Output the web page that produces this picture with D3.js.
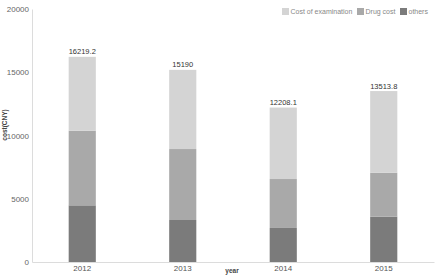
<!DOCTYPE html>
<html>
<head>
<meta charset="utf-8">
<script src="https://cdn.jsdelivr.net/npm/d3@7"></script>
<style>
  html, body { margin: 0; padding: 0; background: #fff; }
  svg { display: block; font-family: "Liberation Sans", Arial, sans-serif; }
</style>
</head>
<body>
<div id="chart"></div>
<script>
const years = ["2012", "2013", "2014", "2015"];
const others = [4480, 3320, 2690, 3580];
const drugCost = [5900, 5610, 3870, 3480];
const examCost = [5839.2, 6260, 5648.1, 6453.8];
const seriesNames = ["Cost of examination", "Drug cost", "others"];
const yTicks = [0, 5000, 10000, 15000, 20000];

const width = 440;
const height = 276;
const margin = { top: 9, right: 6, bottom: 14, left: 32 };

const colors = { others: "#7b7b7b", drug: "#a9a9a9", exam: "#d4d4d4" };

const rows = years.map((y, i) => ({
  year: y,
  others: others[i],
  drug: drugCost[i],
  exam: examCost[i],
}));

const stack = d3.stack().keys(["others", "drug", "exam"]);
const stacked = stack(rows);

const x = d3
  .scaleBand()
  .domain(years)
  .range([margin.left, width - margin.right])
  .paddingInner(0.73)
  .paddingOuter(0.365);

const y = d3
  .scaleLinear()
  .domain([0, 20000])
  .range([height - margin.bottom, margin.top]);

const svg = d3
  .select("#chart")
  .append("svg")
  .attr("width", width)
  .attr("height", height);

// axes
const yAxis = svg
  .append("g")
  .attr("transform", `translate(${margin.left},0)`)
  .call(
    d3
      .axisLeft(y)
      .tickValues(yTicks)
      .tickFormat(d3.format("d"))
      .tickSize(0)
      .tickPadding(3)
  );
yAxis.select(".domain").attr("stroke", "#dcdcdc");
yAxis.selectAll("text").attr("fill", "#666").attr("font-size", 8);

const xAxis = svg
  .append("g")
  .attr("transform", `translate(0,${height - margin.bottom})`)
  .call(d3.axisBottom(x).tickSize(0).tickPadding(3));
xAxis.select(".domain").attr("stroke", "#dcdcdc");
xAxis.selectAll("text").attr("fill", "#555").attr("font-size", 8);

// bars
svg
  .append("g")
  .selectAll("g")
  .data(stacked)
  .join("g")
  .attr("fill", (d) => colors[d.key])
  .selectAll("rect")
  .data((d) => d)
  .join("rect")
  .attr("x", (d) => x(d.data.year))
  .attr("y", (d) => y(d[1]))
  .attr("width", x.bandwidth())
  .attr("height", (d) => y(d[0]) - y(d[1]));

// totals
svg
  .append("g")
  .selectAll("text")
  .data(rows)
  .join("text")
  .attr("x", (d) => x(d.year) + x.bandwidth() / 2)
  .attr("y", (d) => y(d.others + d.drug + d.exam) - 2.5)
  .attr("text-anchor", "middle")
  .attr("font-size", 7.5)
  .attr("fill", "#333")
  .text((d) => String(+(d.others + d.drug + d.exam).toFixed(1)));

// axis titles
svg
  .append("text")
  .attr("x", 232)
  .attr("y", 273)
  .attr("text-anchor", "middle")
  .attr("font-size", 6.5)
  .attr("font-weight", "bold")
  .attr("fill", "#444")
  .text("year");

svg
  .append("text")
  .attr("transform", "rotate(-90)")
  .attr("x", -125)
  .attr("y", 7)
  .attr("text-anchor", "middle")
  .attr("font-size", 6.5)
  .attr("font-weight", "bold")
  .attr("fill", "#444")
  .text("cost(CNY)");

// legend
const legendItems = [
  { name: seriesNames[0], color: colors.exam, x: 282 },
  { name: seriesNames[1], color: colors.drug, x: 357 },
  { name: seriesNames[2], color: colors.others, x: 400 },
];
const legend = svg
  .append("g")
  .selectAll("g")
  .data(legendItems)
  .join("g")
  .attr("transform", (d) => `translate(${d.x},8)`);
legend
  .append("rect")
  .attr("width", 7)
  .attr("height", 7)
  .attr("fill", (d) => d.color);
legend
  .append("text")
  .attr("x", 8.5)
  .attr("y", 6.3)
  .attr("font-size", 7)
  .attr("fill", "#888")
  .text((d) => d.name);
</script>
</body>
</html>
